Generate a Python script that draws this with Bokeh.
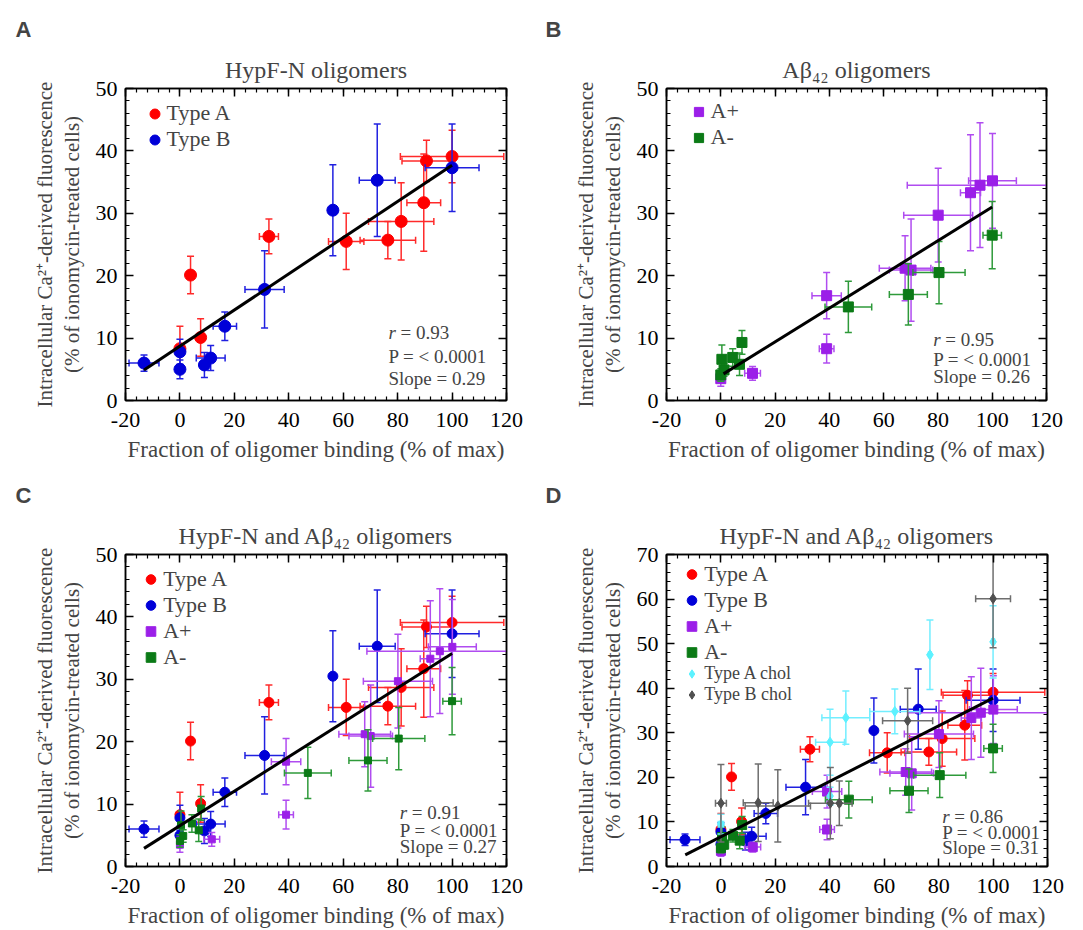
import numpy as np
from bokeh.plotting import figure
from bokeh.models import (ColumnDataSource, Range1d, LinearAxis, SingleIntervalTicker,
                          Legend, LegendItem, Label, Title)
from bokeh.layouts import column, row
from bokeh.embed import file_html
from bokeh.resources import INLINE

# ---------------- data ----------------
TYPE_A_X = [3.9, 32.7, 7.6, 0.0, 61.1, 76.4, 81.3, 89.6, 90.6, 100.0]
TYPE_A_Y = [20.1, 26.3, 10.1, 8.3, 25.5, 25.7, 28.7, 31.7, 38.4, 39.1]
TYPE_A_XERR = [0.5, 3.5, 0.8, 0.5, 6.5, 10.2, 12.0, 6.2, 9.0, 19.0]
TYPE_A_YERR = [3.0, 2.8, 3.0, 3.6, 4.5, 3.0, 6.2, 7.8, 3.3, 4.2]

TYPE_B_X = [-13.2, 0.0, 0.0, 9.0, 11.3, 16.5, 31.1, 56.2, 72.5, 100.0]
TYPE_B_Y = [6.0, 7.8, 5.0, 5.7, 6.8, 11.9, 17.8, 30.5, 35.3, 37.3]
TYPE_B_XERR = [5.5, 0.5, 0.5, 1.5, 5.3, 4.3, 7.2, 0.5, 6.6, 9.9]
TYPE_B_YERR = [1.3, 2.0, 1.5, 2.0, 2.0, 2.3, 6.2, 7.3, 9.0, 7.0]

A_PLUS_X = [0.0, 11.7, 39.0, 39.0, 67.9, 70.1, 80.1, 92.0, 95.5, 100.1]
A_PLUS_Y = [3.5, 4.35, 16.8, 8.3, 21.2, 20.9, 29.7, 33.3, 34.5, 35.2]
A_PLUS_XERR = [0.5, 2.9, 5.4, 2.7, 9.5, 8.0, 12.7, 3.7, 26.8, 8.8]
A_PLUS_YERR = [1.2, 1.1, 3.7, 2.3, 5.2, 8.2, 7.5, 9.3, 10.0, 7.6]

A_MINUS_X = [0.0, 0.4, 1.2, 4.4, 6.9, 7.8, 47.0, 69.1, 80.4, 100.0]
A_MINUS_Y = [4.1, 6.6, 4.9, 6.9, 5.8, 9.3, 15.0, 17.0, 20.5, 26.5]
A_MINUS_XERR = [0.5, 0.5, 0.5, 1.0, 1.0, 0.5, 8.6, 7.0, 9.6, 3.4]
A_MINUS_YERR = [1.0, 2.3, 1.0, 1.4, 1.8, 1.9, 4.1, 4.9, 5.0, 5.4]

A_CHOL_X = [0.0, 40.1, 45.9, 63.9, 76.8, 100.0, 40.1]
A_CHOL_Y = [9.5, 27.9, 33.4, 34.8, 47.5, 50.4, 15.8]
A_CHOL_XERR = [1.0, 5.3, 8.8, 9.2, 0.5, 0.5, 0.5]
A_CHOL_YERR = [2.2, 7.4, 6.0, 5.0, 7.8, 8.1, 2.0]

B_CHOL_X = [0.0, 13.7, 20.9, 40.2, 43.5, 68.6, 100.0]
B_CHOL_Y = [14.2, 14.3, 13.6, 14.2, 14.2, 32.7, 60.1]
B_CHOL_XERR = [2.0, 5.5, 12.0, 8.0, 0.5, 9.2, 6.4]
B_CHOL_YERR = [8.7, 8.7, 8.1, 8.0, 5.0, 7.3, 11.0]

# regression lines: (slope, intercept, x start, x end)
FIT_A = (0.29, 8.7, -13.2, 100.0)
FIT_B = (0.27, 4.0, 1.0, 100.0)
FIT_C = (0.276, 6.55, -13.2, 100.0)
FIT_D = (0.311, 6.67, -13.1, 100.0)

STATS_A = ("0.93", "< 0.0001", "0.29")
STATS_B = ("0.95", "< 0.0001", "0.26")
STATS_C = ("0.91", "< 0.0001", "0.27")
STATS_D = ("0.86", "< 0.0001", "0.31")

X_TICKS = [-20, 0, 20, 40, 60, 80, 100, 120]

SERIF = "Liberation Serif"
SANS = "Liberation Sans"

SERIES = {
    "Type A": dict(x=TYPE_A_X, y=TYPE_A_Y, xe=TYPE_A_XERR, ye=TYPE_A_YERR,
                   color="#FF0000", ecolor="#FF2A2A", marker="circle"),
    "Type B": dict(x=TYPE_B_X, y=TYPE_B_Y, xe=TYPE_B_XERR, ye=TYPE_B_YERR,
                   color="#0000D8", ecolor="#2020E0", marker="circle"),
    "A+": dict(x=A_PLUS_X, y=A_PLUS_Y, xe=A_PLUS_XERR, ye=A_PLUS_YERR,
               color="#9B1FE8", ecolor="#B04CF0", marker="square"),
    "A-": dict(x=A_MINUS_X, y=A_MINUS_Y, xe=A_MINUS_XERR, ye=A_MINUS_YERR,
               color="#0B7A16", ecolor="#2E9A3A", marker="square"),
    "Type A chol": dict(x=A_CHOL_X, y=A_CHOL_Y, xe=A_CHOL_XERR, ye=A_CHOL_YERR,
                        color="#5CF2FF", ecolor="#72EEFF", marker="diamond"),
    "Type B chol": dict(x=B_CHOL_X, y=B_CHOL_Y, xe=B_CHOL_XERR, ye=B_CHOL_YERR,
                        color="#505050", ecolor="#6E6E6E", marker="diamond"),
}

YLABEL = "Intracellular Ca\u00b2\u207a-derived fluorescence\n(% of ionomycin-treated cells)"
XLABEL = "Fraction of oligomer binding (% of max)"


def make_axis(interval, labels):
    ax = LinearAxis(ticker=SingleIntervalTicker(interval=interval, num_minor_ticks=5))
    ax.axis_line_width = 1.5
    ax.axis_line_color = "black"
    ax.major_tick_in = 8
    ax.major_tick_out = 0
    ax.minor_tick_in = 4
    ax.minor_tick_out = 0
    ax.major_tick_line_width = 1.5
    ax.minor_tick_line_width = 1.2
    ax.major_label_text_font = SERIF
    if labels:
        ax.major_label_text_color = "black"
        ax.major_label_text_font_size = "22px"
    else:
        ax.major_label_text_color = None
        ax.major_label_text_font_size = "0px"
        ax.major_label_standoff = 0
    return ax


def make_fig(title, letter, ymax, left, right, top, bottom, fw, fh, letter_offset):
    p = figure(frame_width=fw, frame_height=fh,
               x_range=Range1d(-20, 120), y_range=Range1d(0, ymax),
               x_axis_location=None, y_axis_location=None,
               output_backend="svg", toolbar_location=None,
               min_border_left=left, min_border_right=right,
               min_border_top=top, min_border_bottom=bottom)
    p.grid.visible = False
    p.outline_line_color = "black"
    p.outline_line_width = 1.5
    p.background_fill_color = "white"
    p.border_fill_color = "white"

    bottom_ax = make_axis(20, True)
    bottom_ax.major_label_overrides = {t: str(t) for t in X_TICKS}
    bottom_ax.major_label_standoff = 12
    left_ax = make_axis(10, True)
    left_ax.major_label_standoff = 8
    top_ax = make_axis(20, False)
    right_ax = make_axis(10, False)

    bottom_ax.axis_label = XLABEL
    bottom_ax.axis_label_text_font = SERIF
    bottom_ax.axis_label_text_font_size = "23px"
    bottom_ax.axis_label_text_font_style = "normal"
    bottom_ax.axis_label_standoff = 7
    left_ax.axis_label = YLABEL
    left_ax.axis_label_text_font = SERIF
    left_ax.axis_label_text_font_size = "21px"
    left_ax.axis_label_text_font_style = "normal"
    left_ax.axis_label_text_line_height = 1.1
    left_ax.axis_label_standoff = 9

    p.add_layout(bottom_ax, "below")
    p.add_layout(left_ax, "left")
    p.add_layout(top_ax, "above")
    p.add_layout(right_ax, "right")

    p.title = None
    main_title = Title(text=title, text_font=SERIF, text_font_size="24px",
                       text_font_style="normal", align="center", standoff=11)
    p.add_layout(main_title, "above")
    letter_title = Title(text=letter, text_font=SANS, text_font_size="22px",
                         text_font_style="bold", align="left", offset=letter_offset,
                         standoff=16)
    p.add_layout(letter_title, "above")
    return p


def add_series(p, name, size):
    s = SERIES[name]
    x = np.array(s["x"]); y = np.array(s["y"])
    xe = np.array(s["xe"]); ye = np.array(s["ye"])
    src = ColumnDataSource(dict(x=x, y=y, xl=x - xe, xh=x + xe, yl=y - ye, yh=y + ye))
    ec = s["ecolor"]
    p.segment(x0="xl", y0="y", x1="xh", y1="y", source=src, line_color=ec, line_width=1.5)
    p.segment(x0="x", y0="yl", x1="x", y1="yh", source=src, line_color=ec, line_width=1.5)
    for cx, cy, ang in (("xl", "y", np.pi / 2), ("xh", "y", np.pi / 2),
                        ("x", "yl", 0.0), ("x", "yh", 0.0)):
        p.scatter(x=cx, y=cy, source=src, marker="dash", angle=ang, size=7,
                  line_color=ec, line_width=1.5)
    r = p.scatter(x="x", y="y", source=src, marker=s["marker"], size=size,
                  fill_color=s["color"], line_color=s["color"])
    return r


def add_fit(p, fit):
    slope, icpt, x0, x1 = fit
    fx = np.array([x0, x1])
    p.line(x=fx, y=slope * fx + icpt, line_color="black", line_width=3)


def add_stats(p, stats, x, ys, font_size="19px"):
    r, pv, sl = stats
    kw = dict(x_units="screen", y_units="screen", text_font=SERIF,
              text_font_size=font_size, text_baseline="middle", text_align="left")
    p.add_layout(Label(x=x, y=ys[0], text="r", text_font_style="italic", **kw))
    p.add_layout(Label(x=x + 12, y=ys[0], text="= " + r, **kw))
    p.add_layout(Label(x=x, y=ys[1], text="P = " + pv, **kw))
    p.add_layout(Label(x=x, y=ys[2], text="Slope = " + sl, **kw))


def add_legend(p, items, loc, font_size, item_h, spacing=0):
    lg = Legend(items=[LegendItem(label=n, renderers=[r]) for n, r in items],
                location=loc, padding=0, spacing=spacing, margin=0,
                glyph_width=25, glyph_height=int(item_h), label_height=int(item_h),
                label_standoff=0, label_text_font=SERIF, label_text_font_size=font_size,
                background_fill_alpha=0, border_line_color=None)
    p.add_layout(lg)


FH = 312

# ---- Panel A ----
pA = make_fig("HypF-N oligomers", "A", 50, 125, 35, 88, 69, 381, FH, -110)
rA1 = add_series(pA, "Type A", 12)
rA2 = add_series(pA, "Type B", 12)
add_fit(pA, FIT_A)
add_stats(pA, STATS_A, 263, (68, 44.3, 22.3))
add_legend(pA, [("Type A", rA1), ("Type B", rA2)], (16.5, 248), "22px", 25)

# ---- Panel B ----
pB = make_fig("A\u03b2\u2084\u2082 oligomers", "B", 50, 125, 37, 88, 69, 380, FH, -121)
rB1 = add_series(pB, "A+", 10)
rB2 = add_series(pB, "A-", 10)
add_fit(pB, FIT_B)
add_stats(pB, STATS_B, 266.7, (60.7, 41.4, 24))
add_legend(pB, [("A+", rB1), ("A-", rB2)], (19.5, 250), "22px", 23, spacing=-3)

# ---- Panel C ----
pC = make_fig("HypF-N and A\u03b2\u2084\u2082 oligomers", "C", 50, 125, 35, 85, 64, 381, FH, -110)
rC1 = add_series(pC, "Type A", 10)
rC2 = add_series(pC, "Type B", 10)
rC3 = add_series(pC, "A+", 7)
rC4 = add_series(pC, "A-", 7)
add_fit(pC, FIT_C)
add_stats(pC, STATS_C, 274.3, (54.3, 36, 20.3))
add_legend(pC, [("Type A", rC1), ("Type B", rC2), ("A+", rC3), ("A-", rC4)],
           (13.2, 196.5), "22px", 24, spacing=-1)

# ---- Panel D ----
pD = make_fig("HypF-N and A\u03b2\u2084\u2082 oligomers", "D", 70, 125, 36, 85, 64, 381, FH, -121)
rD1 = add_series(pD, "Type A", 10)
rD2 = add_series(pD, "Type B", 10)
rD3 = add_series(pD, "A+", 9)
rD4 = add_series(pD, "A-", 9)
rD5 = add_series(pD, "Type A chol", 10)
rD6 = add_series(pD, "Type B chol", 10)
add_fit(pD, FIT_D)
add_stats(pD, STATS_D, 275.7, (50, 34.3, 19))
add_legend(pD, [("Type A", rD1), ("Type B", rD2), ("A+", rD3), ("A-", rD4)],
           (13.2, 201.5), "22px", 24, spacing=-1)
add_legend(pD, [("Type A chol", rD5), ("Type B chol", rD6)], (13.2, 161), "18px", 21,
           spacing=-7)

layout = column(row(pA, pB), row(pC, pD))

open("out.html", "w").write(file_html(layout, INLINE))
